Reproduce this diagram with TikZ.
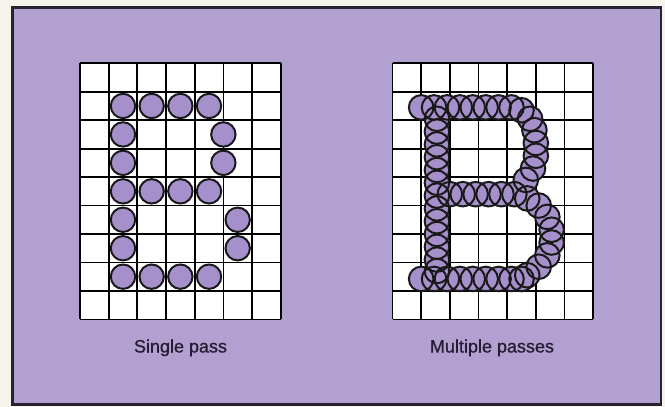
\documentclass[tikz,border=0pt]{standalone}
\usepackage{fontspec}
\setmainfont{Liberation Sans}
\newfontfamily\capfont[FakeBold=0.8]{Liberation Sans}
\definecolor{paper}{RGB}{246,243,236}
\definecolor{bgpurple}{RGB}{178,160,208}
\definecolor{dotpurple}{RGB}{166,144,203}
\definecolor{frameink}{RGB}{40,34,48}
\definecolor{textink}{RGB}{38,28,52}
\tikzset{
  gridline/.style={line width=1.7pt, draw=black},
  dotfill/.style={fill=dotpurple},
  dotline/.style={line width=2pt, draw=black!90},
  caption/.style={font=\capfont\fontsize{18}{20}\selectfont, text=textink, anchor=base, inner sep=0pt}
}
\begin{document}
\begin{tikzpicture}[x=1pt,y=-1pt]
\fill[paper] (0,0) rectangle (665,407);
\useasboundingbox (0,0) rectangle (665,407);
\draw[line width=2.5pt, fill=bgpurple, draw=frameink] (12.5,7.5) rectangle (661,404.5);

% left grid: single pass
\begin{scope}[shift={(80pt,-63.3pt)}, x=28.67pt, y=-28.45pt]
  \fill[white] (0,0) rectangle (7,9);
  \foreach \i in {0,...,7} \draw[gridline] (\i,0) -- (\i,9);
  \foreach \j in {0,...,9} \draw[gridline] (0,\j) -- (7,\j);
  \foreach \p in {(1.5,1.5),(2.5,1.5),(3.5,1.5),(4.5,1.5),
                  (1.5,2.5),(5,2.5),(1.5,3.5),(5,3.5),
                  (1.5,4.5),(2.5,4.5),(3.5,4.5),(4.5,4.5),
                  (1.5,5.5),(5.5,5.5),(1.5,6.5),(5.5,6.5),
                  (1.5,7.5),(2.5,7.5),(3.5,7.5),(4.5,7.5)}
    \filldraw[dotfill, dotline] \p circle[radius=12.2pt];
\end{scope}

% right grid: multiple passes
\begin{scope}[shift={(392.5pt,-63.3pt)}, x=28.67pt, y=-28.45pt]
  \fill[white] (0,0) rectangle (7,9);
  \foreach \i in {0,...,7} \draw[gridline] (\i,0) -- (\i,9);
  \foreach \j in {0,...,9} \draw[gridline] (0,\j) -- (7,\j);
  \def\bpath{(1.0,1.55),(1.45,1.55),(1.9,1.55),(2.35,1.55),(2.8,1.55),(3.25,1.55),(3.7,1.55),(4.15,1.55),(4.5,1.65),
     (4.8,1.95),(4.95,2.35),(5.0,2.8),(5.0,3.25),(4.9,3.7),(4.65,4.1),
     (2.0,4.6),(2.45,4.6),(2.9,4.6),(3.35,4.6),(3.8,4.6),(4.25,4.6),
     (4.7,4.75),(5.1,5.0),(5.4,5.4),(5.55,5.85),(5.55,6.3),(5.4,6.75),(5.1,7.15),(4.7,7.45),
     (1.0,7.58),(1.45,7.58),(1.9,7.58),(2.35,7.58),(2.8,7.58),(3.25,7.58),(3.7,7.58),(4.15,7.58),(4.5,7.58),
     (1.55,1.95),(1.55,2.4),(1.55,2.85),(1.55,3.3),(1.55,3.75),(1.55,4.2),(1.55,4.65),(1.55,5.1),(1.55,5.55),(1.55,6.0),(1.55,6.45),(1.55,6.9),(1.55,7.3)}
  \foreach \p in \bpath \fill[dotfill] \p circle[radius=12.3pt];
  \foreach \p in \bpath \draw[dotline] \p circle[radius=12.3pt];
\end{scope}

\node[caption] (single) at (180.5,352.5) {Single pass};
\node[caption] (multi) at (492,352.5) {Multiple passes};
\end{tikzpicture}
\end{document}
